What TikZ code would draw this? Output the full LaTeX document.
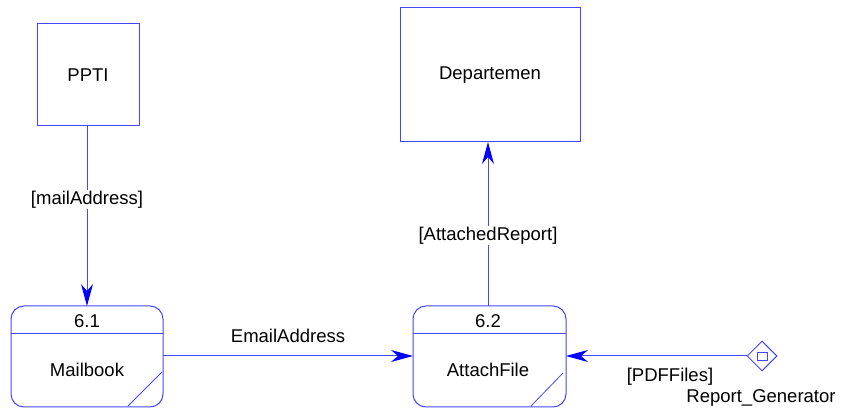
\documentclass[tikz,border=0pt]{standalone}
\usepackage{fontspec}
\setmainfont{Liberation Sans}
\usetikzlibrary{arrows.meta,shapes.geometric}
\definecolor{ln}{RGB}{70,70,255}
\definecolor{tip}{RGB}{0,0,255}
\tikzset{
  x=1pt,y=-1pt,
  ent/.style={draw=ln,line width=1pt,fill=white},
  flow/.style={draw=ln,line width=1pt,-{Stealth[length=22pt,width=12pt,inset=7pt,color=tip]}},
  lbl/.style={fill=white,inner sep=1pt,text=black,font=\fontsize{18.5}{21}\selectfont},
  txt/.style={text=black,font=\fontsize{18.5}{21}\selectfont}
}
\begin{document}
\begin{tikzpicture}
\useasboundingbox (0,0) rectangle (841,411);
% external entities
\node[ent,minimum width=102pt,minimum height=102pt,inner sep=0pt] (pptiBox) at (88,75) {};
\node[txt] (ppti) at (88,75) {PPTI};
\coordinate (pptiB) at (87,126);
\node[ent,minimum width=180pt,minimum height=134pt,inner sep=0pt] (depBox) at (490,75) {};
\node[txt] (dep) at (490,75) {Departemen};
\coordinate (depB) at (488,142);
% processes
\draw[ent,rounded corners=13pt] (11,306) rectangle (163,407);
\draw[ln,line width=1pt] (11,334) -- (163,334);
\draw[ln,line width=0.8pt] (128,406) -- (162,372);
\node[txt] (n61) at (87,321) {6.1};
\node[txt] (mail) at (87,370) {Mailbook};
\coordinate (mailT) at (87,306);
\coordinate (mailR) at (163,356);
\draw[ent,rounded corners=13pt] (413,306) rectangle (566,407);
\draw[ln,line width=1pt] (413,334) -- (566,334);
\draw[ln,line width=0.8pt] (531,406) -- (563,373);
\node[txt] (n62) at (488,321) {6.2};
\node[txt] (att) at (488,370) {AttachFile};
\coordinate (attT) at (488,306);
\coordinate (attL) at (413,356);
\coordinate (attR) at (566,356);
% diamond
\node[diamond,draw=ln,line width=1pt,minimum width=30pt,minimum height=30pt,inner sep=0pt,fill=white] (rg) at (762,356) {};
\draw[ln,line width=0.8pt] (757,352) rectangle (767,360);
\node[txt,anchor=north] (rgl) at (761,386) {Report\_Generator};
% flows
\draw[flow] (pptiB) -- node[lbl,pos=0.41] (l1) {[mailAddress]} (mailT);
\draw[flow] (mailR) -- (attL);
\node[txt] (l2) at (288,336) {EmailAddress};
\draw[flow] (attT) -- node[lbl,pos=0.43] (l3) {[AttachedReport]} (depB);
\draw[flow] (rg.west) -- (attR);
\node[txt] (l4) at (670,377) {[PDFFiles]};
\end{tikzpicture}
\end{document}
